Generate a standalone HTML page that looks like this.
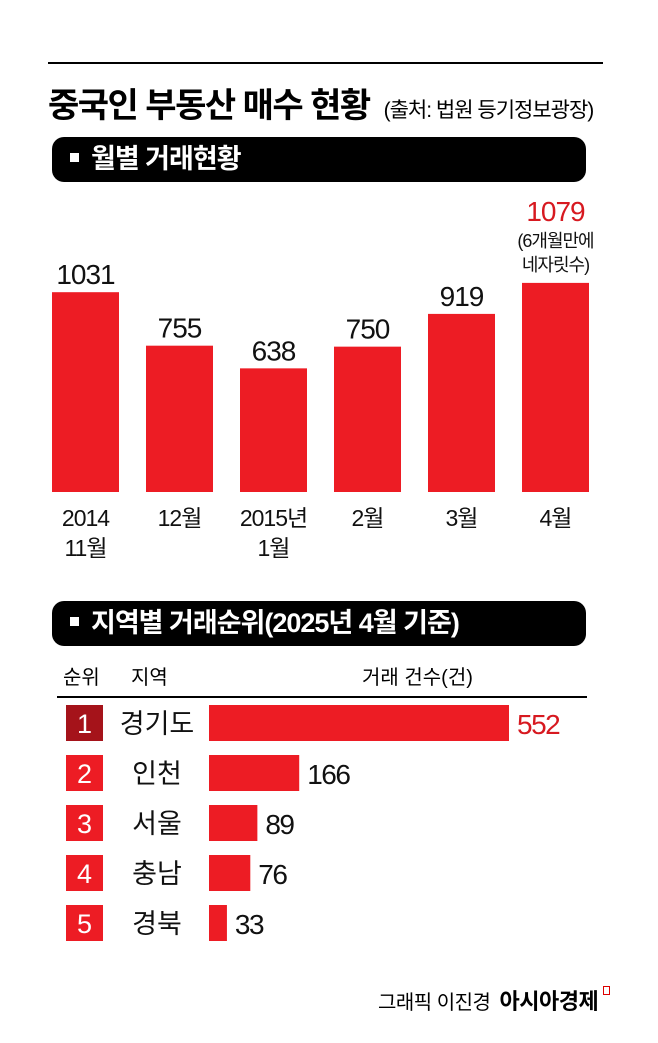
<!DOCTYPE html>
<html><head><meta charset="utf-8"><style>
body{margin:0;background:#fff;font-family:"Liberation Sans","Noto Sans CJK KR",sans-serif;}
#root{position:relative;width:658px;height:1043px;overflow:hidden;background:#fff}
.abs{position:absolute}
.hdr{position:absolute;left:52px;width:534px;height:45px;background:#000;border-radius:12px;color:#fff;font-weight:bold;font-size:27px;line-height:45px;letter-spacing:-1px}
.sq{display:inline-block;width:9px;height:9px;background:#fff;margin:0 12px 0 18px;vertical-align:middle;position:relative;top:-3px}
</style></head><body>
<div id="root">
<div class="abs" style="left:48px;top:62px;width:555px;height:2px;background:#000"></div>
<div class="abs" style="left:48px;top:78px;font-size:34px;font-weight:bold;letter-spacing:-1.5px;white-space:nowrap">중국인 부동산 매수 현황 <span style="font-size:21px;font-weight:normal;letter-spacing:-1px;margin-left:6px">(출처: 법원 등기정보광장)</span></div>
<div class="hdr" style="top:137px"><span class="sq"></span>월별 거래현황</div>
<svg id="bars" class="abs" style="left:0;top:0" width="658" height="600"></svg>
<div class="hdr" style="top:601px"><span class="sq"></span>지역별 거래순위(2025년 4월 기준)</div>
<div class="abs" style="left:63px;top:661px;font-size:20px">순위</div>
<div class="abs" style="left:131px;top:661px;font-size:20px">지역</div>
<div class="abs" style="left:362px;top:661px;font-size:20px">거래 건수(건)</div>
<div class="abs" style="left:57px;top:696px;width:530px;height:1.5px;background:#000"></div>
<svg id="hbars" class="abs" style="left:0;top:0" width="658" height="1000"></svg>
<div class="abs" style="left:378px;top:984px;font-size:20px;white-space:nowrap;letter-spacing:-0.5px">그래픽 이진경 <b style="font-size:22px;margin-left:4px">아시아경제</b></div>
<div class="abs" style="left:603px;top:986px;width:5px;height:7px;border:1.5px solid #d00"></div>
</div>
<script>
const months=["2014|11월","12월","2015년|1월","2월","3월","4월"];
const monthVals=[1031,755,638,750,919,1079];
const regions=["경기도","인천","서울","충남","경북"];
const regionVals=[552,166,89,76,33];
const NS="http://www.w3.org/2000/svg";
function mk(p,t,a){const e=document.createElementNS(NS,t);for(const k in a)e.setAttribute(k,a[k]);p.appendChild(e);return e;}
const svg=document.getElementById('bars');
const base=492,yk=0.1938;
function y(v){return base-v*yk;}
function x(i){return 52+i*94;}
months.forEach((m,i)=>{
 const v=monthVals[i],last=i===months.length-1;
 const r=mk(svg,'rect',{x:x(i),y:y(v),width:67,height:base-y(v),fill:'#ed1c24'});
 
 
 const ty=last?y(v)-62:y(v)-8;
 const t=mk(svg,'text',{x:x(i)+33.5,y:ty,'text-anchor':'middle','font-size':28,fill:last?'#d71920':'#111','letter-spacing':-1,'font-family':'Liberation Sans, Noto Sans CJK KR, sans-serif'});
 t.textContent=v;
 
 
 if(last){["(6개월만에","네자릿수)"].forEach((s,j)=>{const n=mk(svg,'text',{x:x(i)+33.5,y:y(v)-36+j*24,'text-anchor':'middle','font-size':18,fill:'#111','letter-spacing':-1,'font-family':'Liberation Sans, Noto Sans CJK KR, sans-serif'});n.textContent=s;
 
 });}
 m.split('|').forEach((s,j)=>{const l=mk(svg,'text',{x:x(i)+33.5,y:526+j*30,'text-anchor':'middle','font-size':23,fill:'#111','letter-spacing':-1,'font-family':'Liberation Sans, Noto Sans CJK KR, sans-serif'});l.textContent=s;
 
 });
});
const h=document.getElementById('hbars');
const hk=300/552;
regions.forEach((r,i)=>{
 const cy=723+i*50,v=regionVals[i];
 const b=mk(h,'rect',{x:66,y:cy-18,width:37,height:36,fill:i===0?'#a5131a':'#ed1c24'});
 
 
 const n=mk(h,'text',{x:84.5,y:cy+10,'text-anchor':'middle','font-size':27,fill:'#fff','font-family':'Liberation Sans, sans-serif'});n.textContent=i+1;
 
 
 const t=mk(h,'text',{x:157,y:cy+10,'text-anchor':'middle','font-size':27,fill:'#111','font-family':'Liberation Sans, Noto Sans CJK KR, sans-serif'});t.textContent=r;
 
 
 const w=v*hk;
 const bar=mk(h,'rect',{x:209,y:cy-18,width:w,height:36,fill:'#ed1c24'});
 
 
 const vl=mk(h,'text',{x:209+w+8,y:cy+11,'font-size':28,fill:i===0?'#d71920':'#111','letter-spacing':-1.5,'font-family':'Liberation Sans, sans-serif'});vl.textContent=v;
 
 
});
</script>
</body></html>
